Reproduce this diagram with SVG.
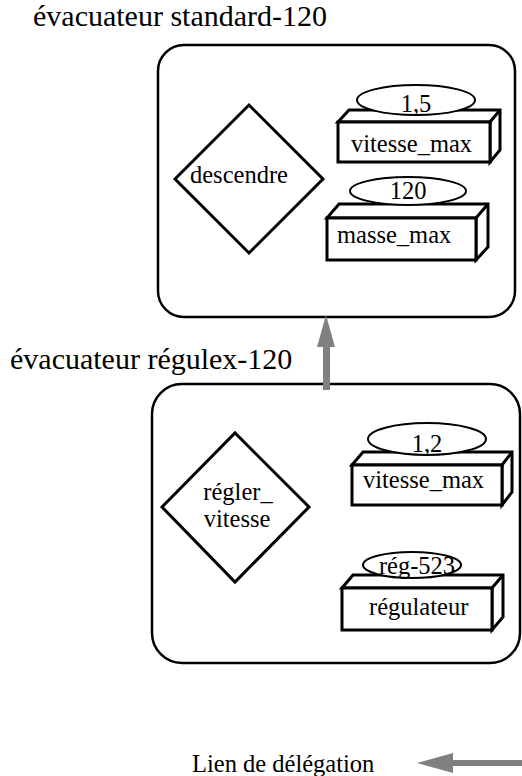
<svg xmlns="http://www.w3.org/2000/svg" width="522" height="776" viewBox="0 0 522 776">
<style>
text{font-family:"Liberation Serif","Times New Roman",serif;font-size:24.5px;fill:#000}
.title{font-size:30px}
.frame{fill:none;stroke:#000;stroke-width:2.5}
.dia{fill:#fff;stroke:#000;stroke-width:3}
.box{fill:#fff;stroke:#000;stroke-width:3;stroke-linejoin:miter}
.ell{fill:#fff;stroke:#000;stroke-width:2}
.mid{text-anchor:middle}
.link{fill:#808080;stroke:none}
</style>
<rect width="522" height="776" fill="#fff"/>
<g id="standard">
<text class="title" x="33" y="26">évacuateur standard-120</text>
<rect class="frame" x="158" y="45" width="357" height="272" rx="26"/>
</g>
<g id="descendre">
<polygon class="dia" points="175,179 249,105 323,179 249,253"/>
<text x="190" y="183">descendre</text>
</g>
<g id="vitesse_max_1">
<polygon class="box" points="338,122 349,110 500,110 500,150 490,162 490,122"/>
<rect class="box" x="338" y="122" width="152" height="40"/>
<line x1="490" y1="122" x2="500" y2="110" stroke="#000" stroke-width="3"/>
<ellipse class="ell" cx="416" cy="100" rx="59" ry="15"/>
<text class="mid" x="416" y="112">1,5</text>
<text x="351" y="152">vitesse_max</text>
</g>
<g id="masse_max">
<polygon class="box" points="327,218 339,204 488,204 488,247 476,260 476,218"/>
<rect class="box" x="327" y="218" width="149" height="42"/>
<line x1="476" y1="218" x2="488" y2="204" stroke="#000" stroke-width="3"/>
<ellipse class="ell" cx="408" cy="191" rx="58" ry="14"/>
<text class="mid" x="408" y="199">120</text>
<text x="337" y="243">masse_max</text>
</g>
<g id="regulex">
<text class="title" x="10" y="369">évacuateur régulex-120</text>
<rect class="frame" x="152" y="384" width="368" height="279" rx="30"/>
</g>
<g id="regler_vitesse">
<polygon class="dia" points="162,507 235,433 309,507 235,582"/>
<text class="mid" x="238" y="500">régler_</text>
<text class="mid" x="237" y="527">vitesse</text>
</g>
<g id="vitesse_max_2">
<polygon class="box" points="352,465 363,452 512,452 512,492 502,505 502,465"/>
<rect class="box" x="352" y="465" width="150" height="40"/>
<line x1="502" y1="465" x2="512" y2="452" stroke="#000" stroke-width="3"/>
<ellipse class="ell" cx="427" cy="439" rx="59" ry="16"/>
<text class="mid" x="427" y="452">1,2</text>
<text x="363" y="488">vitesse_max</text>
</g>
<g id="regulateur">
<polygon class="box" points="342,588 353,575 503,575 503,617 492,630 492,588"/>
<rect class="box" x="342" y="588" width="150" height="42"/>
<line x1="492" y1="588" x2="503" y2="575" stroke="#000" stroke-width="3"/>
<ellipse class="ell" cx="412" cy="565" rx="49" ry="13"/>
<text class="mid" x="417" y="574">rég-523</text>
<text x="369" y="615">régulateur</text>
</g>
<g id="connectors">
<polygon class="link" points="326,315 335,347 330,347 330,390 323,390 323,347 317,347"/>
</g>
<g id="legend">
<text x="192" y="772">Lien de délégation</text>
<polygon class="link" points="417,763 453,753 453,760 522,760 522,766 453,766 453,773"/>
</g>
</svg>
